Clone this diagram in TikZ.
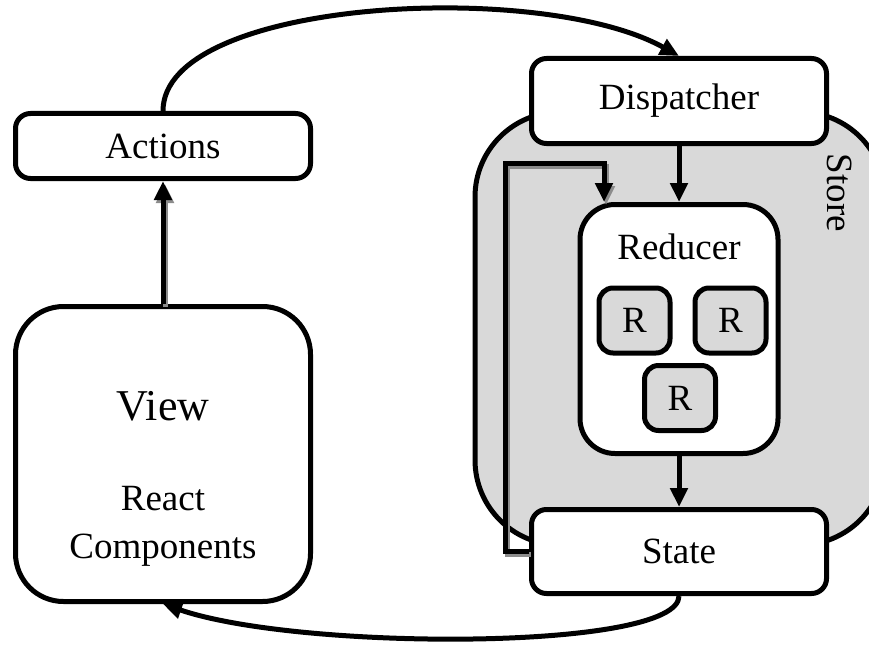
\documentclass[tikz,border=0pt]{standalone}
\usepackage{fontspec}
\setmainfont{Liberation Serif}
\usepackage{xcolor}
\definecolor{storegray}{HTML}{D9D9D9}
\definecolor{shadowgray}{HTML}{8C8C8C}
\usetikzlibrary{arrows.meta,positioning,calc}

\begin{document}
\begin{tikzpicture}[x=1pt,y=-1pt,
  box/.style={draw,line width=5pt,fill=white,rounded corners=15pt,inner sep=0pt,font=\fontsize{37}{42}\selectfont},
  rbox/.style={box,fill=storegray,rounded corners=14pt,minimum width=71pt,minimum height=65pt},
  flow/.style={line width=5pt,-{Triangle[length=19pt,width=17pt]}},
  shadowed/.style={preaction={draw=shadowgray,line width=5pt,transform canvas={shift={(2pt,-3pt)}}}}]
  \useasboundingbox (0,0) rectangle (869,650);
  % Store background
  \node[draw,line width=5pt,fill=storegray,rounded corners=85pt,minimum width=410pt,minimum height=433pt] (store) at (680,328.5) {};
  \node[rotate=-90,font=\fontsize{37}{42}\selectfont] (storelabel) at (840,193) {Store};
  % Left column
  \node[box,minimum width=295pt,minimum height=65pt] (actions) at (163,146) {Actions};
  \node[box,rounded corners=48pt,minimum width=295pt,minimum height=295pt] (view) at (163,454) {};
  \node[font=\fontsize{44}{50}\selectfont] (viewtitle) at (163,406) {View};
  \node[font=\fontsize{37}{48}\selectfont,align=center] (viewsub) at (163,526) {React\\Components};
  % Right column
  \node[box,minimum width=295pt,minimum height=85pt] (dispatcher) at (679,101) {Dispatcher};
  \node[box,minimum width=295pt,minimum height=84pt] (state) at (679,551.5) {State};
  \node[box,rounded corners=35pt,minimum width=198pt,minimum height=249pt] (reducer) at (679,329) {};
  \node[font=\fontsize{37}{42}\selectfont] (reducerlabel) at (679,247) {Reducer};
  \foreach \i/\pos in {1/{634.5,320.5}, 2/{730.5,320.5}, 3/{680,398}} {
    \node[rbox] (r\i) at (\pos) {R};
  }
  % Arrows
  \draw[flow,shadowed] (view.north) -- (actions.south);
  \draw[flow] (actions.north) .. controls +(0,-112) and +(-139,-77) .. (dispatcher.north);
  \draw[flow] (dispatcher.south) -- (reducer.north);
  \draw[flow] (reducer.south) -- (state.north);
  \draw[flow] (state.south) .. controls +(0,55) and +(137,47) .. (view.south);
  % Feedback from state
  \coordinate (fbturn) at (604,163);
  \draw[flow,shadowed] (state.west) -- ++(-24,0) |- (fbturn) -- (fbturn |- reducer.north);
\end{tikzpicture}
\end{document}
